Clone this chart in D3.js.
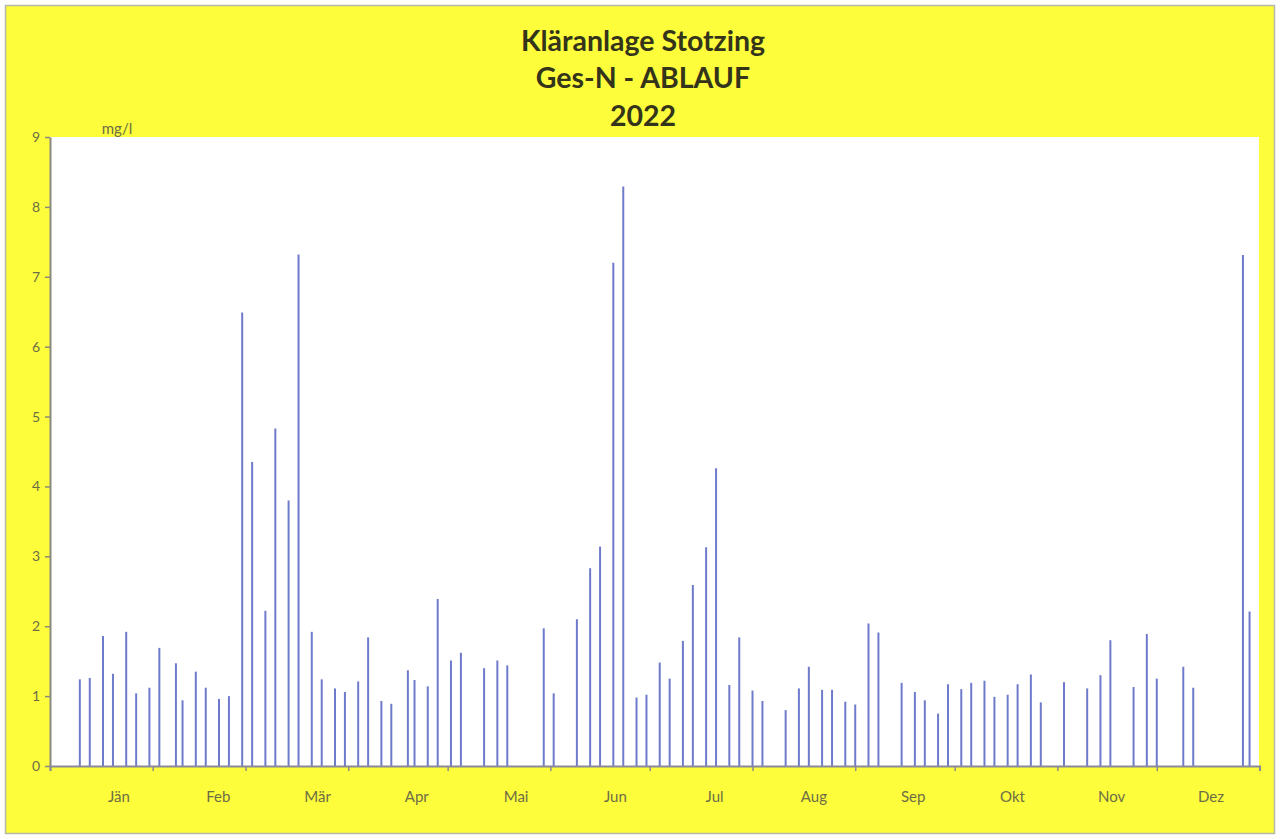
<!DOCTYPE html>
<html>
<head>
<meta charset="utf-8">
<script src="https://cdn.jsdelivr.net/npm/d3@7"></script>
<style>
  body { margin: 0; background: #ffffff; }
  svg { display: block; }
</style>
</head>
<body>
<svg id="chart" width="1280" height="839"></svg>
<script>
// ---- data ----
const titleLines = ["Kläranlage Stotzing", "Ges-N - ABLAUF", "2022"];
const unitLabel = "mg/l";
const monthLabels = ["Jän", "Feb", "Mär", "Apr", "Mai", "Jun", "Jul", "Aug", "Sep", "Okt", "Nov", "Dez"];
const yTicks = [0, 1, 2, 3, 4, 5, 6, 7, 8, 9];

const sampleDates = [
  "2022-01-10","2022-01-13","2022-01-17","2022-01-20","2022-01-24","2022-01-27","2022-01-31",
  "2022-02-03","2022-02-08","2022-02-10","2022-02-14","2022-02-17","2022-02-21","2022-02-24","2022-02-28",
  "2022-03-03","2022-03-07","2022-03-10","2022-03-14","2022-03-17","2022-03-21","2022-03-24","2022-03-28","2022-03-31",
  "2022-04-04","2022-04-07","2022-04-11","2022-04-14","2022-04-19","2022-04-21","2022-04-25","2022-04-28",
  "2022-05-02","2022-05-05","2022-05-12","2022-05-16","2022-05-19","2022-05-30",
  "2022-06-02","2022-06-09","2022-06-13","2022-06-16","2022-06-20","2022-06-23","2022-06-27","2022-06-30",
  "2022-07-04","2022-07-07","2022-07-11","2022-07-14","2022-07-18","2022-07-21","2022-07-25","2022-07-28",
  "2022-08-01","2022-08-04","2022-08-11","2022-08-15","2022-08-18","2022-08-22","2022-08-25","2022-08-29",
  "2022-09-01","2022-09-05","2022-09-08","2022-09-15","2022-09-19","2022-09-22","2022-09-26","2022-09-29",
  "2022-10-03","2022-10-06","2022-10-10","2022-10-13","2022-10-17","2022-10-20","2022-10-24","2022-10-27",
  "2022-11-03","2022-11-10","2022-11-14","2022-11-17","2022-11-24","2022-11-28",
  "2022-12-01","2022-12-09","2022-12-12","2022-12-27","2022-12-29"
];
const gesN = [
  1.24,1.26,1.86,1.32,1.92,1.04,1.12,
  1.69,1.47,0.94,1.35,1.12,0.96,1.00,6.49,
  4.35,2.22,4.83,3.80,7.32,1.92,1.24,1.11,1.06,
  1.21,1.84,0.93,0.89,1.37,1.23,1.14,2.39,
  1.51,1.62,1.40,1.51,1.44,1.97,
  1.04,2.10,2.83,3.14,7.20,8.29,0.98,1.02,
  1.48,1.25,1.79,2.59,3.13,4.26,1.16,1.84,
  1.08,0.93,0.80,1.11,1.42,1.09,1.09,0.92,
  0.88,2.04,1.91,1.19,1.06,0.94,0.75,1.17,
  1.10,1.19,1.22,0.99,1.02,1.17,1.31,0.91,
  1.20,1.11,1.30,1.80,1.13,1.89,
  1.25,1.42,1.12,7.31,2.21
];

// ---- layout ----
const W = 1280, H = 839;
const plot = { left: 50, right: 1259, top: 137, bottom: 766 };
const svg = d3.select("#chart");
const parse = d3.timeParse("%Y-%m-%d");
const data = sampleDates.map((d, i) => ({ date: parse(d), value: gesN[i] }));

const x = d3.scaleTime()
  .domain([new Date(2022, 0, 1), new Date(2023, 0, 1)])
  .range([50, 1259.5]);
const y = d3.scaleLinear().domain([0, 9]).range([plot.bottom, plot.top]);
const xLabel = d3.scalePoint().domain(monthLabels).range([119, 1211]);

// background
svg.append("rect").attr("width", W).attr("height", H).attr("fill", "#ffffff");
svg.append("rect")
  .attr("x", 5.5).attr("y", 5.5).attr("width", 1269).attr("height", 828)
  .attr("fill", "#fdfd3c").attr("stroke", "#b8b8a8").attr("stroke-width", 1.5);
svg.append("rect")
  .attr("x", plot.left).attr("y", plot.top)
  .attr("width", plot.right - plot.left).attr("height", plot.bottom - plot.top)
  .attr("fill", "#ffffff");

// title
const titleY = [51, 88, 126];
svg.append("g").selectAll("text").data(titleLines).join("text")
  .attr("x", 643).attr("y", (d, i) => titleY[i])
  .attr("text-anchor", "middle")
  .attr("font-family", "Lato, 'Open Sans', sans-serif")
  .attr("font-weight", "bold")
  .attr("font-size", 28.5)
  .attr("fill", "#34341a")
  .text(d => d);

// bars (thin columns)
svg.append("g").selectAll("line").data(data).join("line")
  .attr("x1", d => x(d.date)).attr("x2", d => x(d.date))
  .attr("y1", y(0)).attr("y2", d => y(d.value))
  .attr("stroke", "#6e7bcb").attr("stroke-width", 2);

// y axis
const yAxis = d3.axisLeft(y).tickValues(yTicks).tickSize(5).tickPadding(5).tickSizeOuter(0);
const gy = svg.append("g").attr("transform", `translate(${plot.left},0)`).call(yAxis);
gy.select(".domain").attr("stroke", "#8a8a7c").attr("stroke-width", 2);
gy.selectAll(".tick line").attr("stroke", "#8a8a7c").attr("stroke-width", 1.5);
gy.selectAll(".tick text")
  .attr("font-family", "Lato, 'Open Sans', sans-serif")
  .attr("font-size", 14).attr("fill", "#6d6d45");

// x axis (month boundary ticks)
const xAxis = d3.axisBottom(x).ticks(d3.timeMonth.every(1)).tickSize(5).tickFormat("").tickSizeOuter(5);
const gx = svg.append("g").attr("transform", `translate(0,${plot.bottom})`).call(xAxis);
gx.select(".domain").attr("stroke", "#8a8a96").attr("stroke-width", 2);
gx.selectAll(".tick line").attr("stroke", "#8a8a96").attr("stroke-width", 1.5);

// month labels
svg.append("g").selectAll("text").data(monthLabels).join("text")
  .attr("x", d => xLabel(d)).attr("y", 802)
  .attr("text-anchor", "middle")
  .attr("font-family", "Lato, 'Open Sans', sans-serif")
  .attr("font-size", 15).attr("fill", "#6d6d45")
  .text(d => d);

// unit label
svg.append("text")
  .attr("x", 117).attr("y", 134)
  .attr("text-anchor", "middle")
  .attr("font-family", "Lato, 'Open Sans', sans-serif")
  .attr("font-size", 15).attr("fill", "#6d6d45")
  .text(unitLabel);
</script>
</body>
</html>
